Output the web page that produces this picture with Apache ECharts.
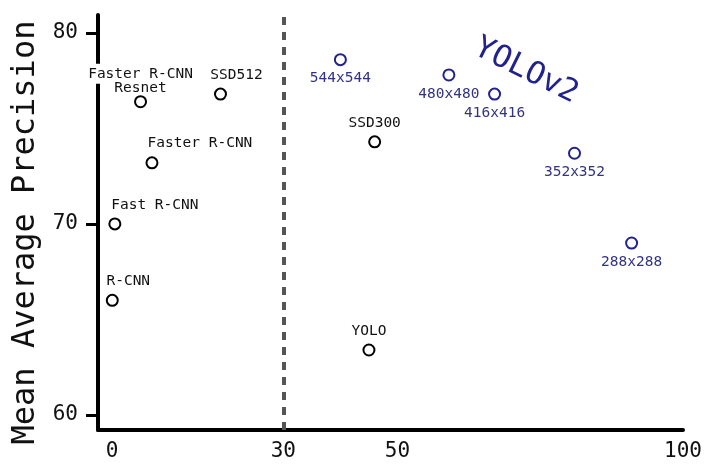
<!DOCTYPE html>
<html>
<head>
<meta charset="utf-8">
<script src="https://cdn.jsdelivr.net/npm/echarts@6/dist/echarts.min.js"></script>
<style>html,body{margin:0;padding:0;background:#fff;}#c{width:720px;height:469px;}</style>
</head>
<body>
<div id="c"></div>
<script>
// ---- data ----
const otherNames = ['R-CNN', 'Fast R-CNN', 'Faster R-CNN', 'Faster R-CNN\nResnet', 'SSD512', 'SSD300', 'YOLO'];
const otherFps   = [0.05, 0.5, 7, 5, 19, 46, 45];
const otherMap   = [66.0, 70.0, 73.2, 76.4, 76.8, 74.3, 63.4];
const yolo2Names = ['544x544', '480x480', '416x416', '352x352', '288x288'];
const yolo2Fps   = [40, 59, 67, 81, 91];
const yolo2Map   = [78.6, 77.8, 76.8, 73.7, 69.0];
const xTicks = [0, 30, 50, 100];
const yTicks = [60, 70, 80];
const realTimeFps = 30;

// ---- label layout (style only) ----
const otherLabelOffset = {
  'R-CNN': [16, 0], 'Fast R-CNN': [40, 0], 'Faster R-CNN': [48, -1],
  'Faster R-CNN\nResnet': [0, 6], 'SSD512': [16, 0], 'SSD300': [0, 0], 'YOLO': [0, 0]
};

const FONT = '"DejaVu Sans Mono", monospace';
const BLUE = '#22228c';
const BLUE_TXT = '#33337f';

const chart = echarts.init(document.getElementById('c'), null, {renderer: 'canvas'});
chart.setOption({
  backgroundColor: '#ffffff',
  animation: false,
  grid: {left: 98, right: 37, top: 15, bottom: 39, containLabel: false},
  xAxis: {
    type: 'value', min: -2.45, max: 100,
    splitLine: {show: false},
    axisLine: {show: true, onZero: false, lineStyle: {color: '#000', width: 4}},
    axisTick: {show: false},
    axisLabel: {customValues: xTicks, margin: 11, fontFamily: FONT, fontSize: 21, color: '#111'}
  },
  yAxis: {
    type: 'value', min: 59.21, max: 80.94,
    name: 'Mean Average Precision', nameLocation: 'middle', nameGap: 55,
    nameTextStyle: {fontFamily: FONT, fontSize: 32, color: '#111', padding: [0, 20, 0, 0]},
    splitLine: {show: false},
    axisLine: {show: true, onZero: false, lineStyle: {color: '#000', width: 4}},
    axisTick: {show: true, customValues: yTicks, length: 12, lineStyle: {color: '#000', width: 3}},
    axisLabel: {customValues: yTicks, margin: 20, fontFamily: FONT, fontSize: 21, color: '#111'}
  },
  graphic: [{
    type: 'text', x: 526, y: 71, rotation: -0.46,
    style: {text: 'YOLOv2', fontFamily: FONT, fontSize: 31, fill: BLUE, align: 'center', verticalAlign: 'middle'}
  }],
  series: [
    {
      type: 'scatter', symbol: 'emptyCircle', symbolSize: 11,
      itemStyle: {color: '#000', borderColor: '#000', borderWidth: 2.5, opacity: 1},
      data: otherNames.map((n, i) => ({
        value: [otherFps[i], otherMap[i]], name: n,
        label: {offset: otherLabelOffset[n]}
      })),
      label: {
        show: true, position: 'top', distance: 5, color: '#111', fontFamily: FONT, fontSize: 14.5, lineHeight: 15,
        formatter: p => {
          const parts = p.name.split('\n');
          if (parts.length > 1) return '{a|' + parts[0] + '}\n{b|' + parts[1] + '}';
          return p.name;
        },
        rich: {
          a: {backgroundColor: '#fff', fontFamily: FONT, fontSize: 14.5, color: '#111', lineHeight: 15, padding: [3, 0, 2, 0]},
          b: {fontFamily: FONT, fontSize: 14.5, color: '#111', lineHeight: 15}
        }
      },
      markLine: {
        silent: true, symbol: ['none', 'none'], label: {show: false},
        lineStyle: {color: '#555', width: 4, type: [8, 7]},
        data: [{xAxis: realTimeFps}]
      },
      z: 3
    },
    {
      type: 'scatter', symbol: 'emptyCircle', symbolSize: 11,
      itemStyle: {color: BLUE, borderColor: BLUE, borderWidth: 2.5, opacity: 1},
      data: yolo2Names.map((n, i) => ({value: [yolo2Fps[i], yolo2Map[i]], name: n})),
      label: {show: true, position: 'bottom', distance: 5, color: BLUE_TXT, fontFamily: FONT, fontSize: 14.5, formatter: p => p.name},
      z: 3
    }
  ]
});
</script>
</body>
</html>
